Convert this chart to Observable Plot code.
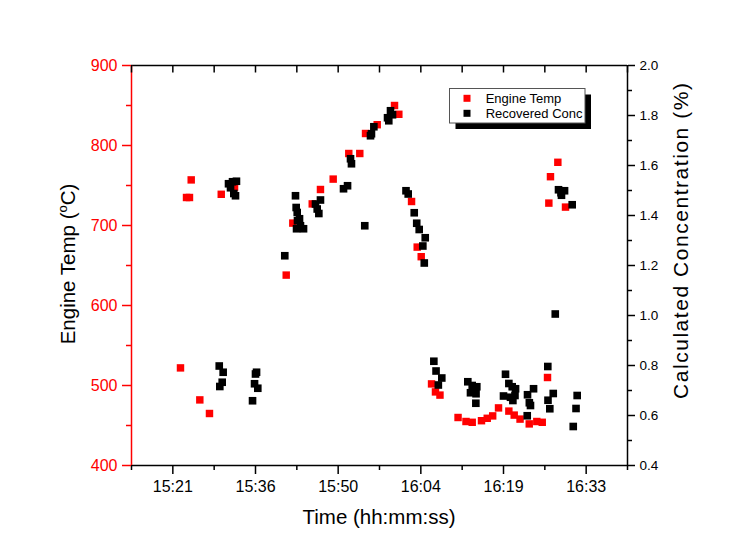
<!DOCTYPE html>
<html><head><meta charset="utf-8">
<script src="https://cdn.jsdelivr.net/npm/d3@7"></script>
<script src="https://cdn.jsdelivr.net/npm/@observablehq/plot@0.6"></script>
<style>body{margin:0;background:#fff;} svg{display:block}</style>
</head><body><div id="chart"></div>
<script>
// ---- data ----
const seriesNames = ["Engine Temp", "Recovered Conc"];
const tempTimes = ["15:22:56","15:23:59","15:24:30","15:24:48","15:26:18","15:27:59","15:30:02","15:32:21","15:41:21","15:42:30","15:45:53","15:47:19","15:49:32","15:52:15","15:54:10","15:55:10","15:57:12","16:00:13","16:00:58","16:03:11","16:04:10","16:04:52","16:06:40","16:07:21","16:08:08","16:11:17","16:12:40","16:13:45","16:15:22","16:16:22","16:17:19","16:18:20","16:20:08","16:21:04","16:22:05","16:23:41","16:25:00","16:25:57","16:26:52","16:27:06","16:27:23","16:28:40","16:30:00"];
const tempValues = [522,735,735,757,482,465,739,748,638,703,727,745,758,790,790,815,826,850,839,730,673,661,502,492,488,460,455,454,456,459,462,472,468,463,458,452,455,454,510,728,761,779,723];
const concTimes = ["15:29:41","15:29:47","15:30:12","15:30:22","15:31:18","15:31:39","15:32:00","15:32:13","15:32:31","15:32:41","15:35:29","15:35:50","15:36:00","15:36:11","15:36:24","15:41:06","15:42:58","15:43:05","15:43:09","15:43:16","15:43:19","15:43:40","15:43:50","15:44:22","15:46:27","15:46:45","15:47:02","15:47:19","15:51:20","15:52:02","15:52:33","15:52:43","15:55:02","15:56:02","15:56:12","15:56:37","15:59:00","15:59:13","15:59:31","15:59:52","16:02:13","16:02:36","16:03:39","16:04:05","16:04:31","16:05:09","16:05:24","16:05:34","16:07:04","16:07:27","16:07:51","16:08:27","16:12:59","16:13:27","16:13:45","16:14:23","16:14:25","16:14:33","16:19:12","16:19:33","16:20:08","16:20:25","16:20:43","16:20:50","16:21:12","16:21:18","16:23:20","16:23:23","16:23:42","16:23:54","16:24:26","16:26:55","16:26:57","16:27:16","16:27:52","16:28:13","16:28:47","16:29:13","16:29:18","16:29:50","16:31:10","16:31:21","16:31:50","16:32:02"];
const concValues = [0.798,0.716,0.733,0.773,1.527,1.511,1.535,1.488,1.479,1.537,0.659,0.727,0.766,0.773,0.709,1.239,1.479,1.432,1.347,1.412,1.379,1.387,1.359,1.347,1.446,1.426,1.408,1.462,1.507,1.519,1.627,1.607,1.359,1.719,1.727,1.755,1.791,1.779,1.819,1.803,1.499,1.486,1.411,1.369,1.344,1.278,1.210,1.311,0.817,0.778,0.722,0.750,0.735,0.691,0.720,0.649,0.687,0.715,0.678,0.765,0.728,0.673,0.715,0.660,0.680,0.707,0.599,0.683,0.651,0.640,0.707,0.796,0.661,0.627,0.688,1.006,1.503,1.491,1.481,1.499,1.443,0.556,0.628,0.680];
// x ticks in fraction of a day, with their labels
const xTickValues = [0.64, 0.65, 0.66, 0.67, 0.68, 0.69];
const xTickLabels = ["15:21", "15:36", "15:50", "16:04", "16:19", "16:33"];
const xMinorTicks = [0.635, 0.645, 0.655, 0.665, 0.675, 0.685, 0.695];
const tempTicks = [400, 500, 600, 700, 800, 900];
const tempMinorTicks = [450, 550, 650, 750, 850];
const concTicks = [0.4, 0.6, 0.8, 1.0, 1.2, 1.4, 1.6, 1.8, 2.0];
const concMinorTicks = [0.5, 0.7, 0.9, 1.1, 1.3, 1.5, 1.7, 1.9];

// ---- helpers ----
const dayFrac = s => { const [h, m, sec] = s.split(":").map(Number); return (h * 3600 + m * 60 + sec) / 86400; };
const T0 = 400, T1 = 900, C0 = 0.4, C1 = 2.0, X0 = 0.635, X1 = 0.695;
const concToTemp = c => T0 + (c - C0) / (C1 - C0) * (T1 - T0);
const tempToConc = t => C0 + (t - T0) / (T1 - T0) * (C1 - C0);
const xLabelMap = new Map(xTickValues.map((v, i) => [v, xTickLabels[i]]));

const tempData = tempTimes.map((t, i) => ({x: dayFrac(t), y: tempValues[i]}));
const concData = concTimes.map((t, i) => ({x: dayFrac(t), y: concToTemp(concValues[i])}));

const W = 729, H = 558, ML = 131, MR = 102, MT = 65, MB = 93;
const pxPerT = (H - MT - MB) / (T1 - T0);
const RED = "#ff0000";
const FONT = "'Liberation Sans', Arial, Helvetica, sans-serif";

const plot = Plot.plot({
  width: W, height: H,
  marginLeft: ML, marginRight: MR, marginTop: MT, marginBottom: MB,
  style: {fontFamily: FONT, background: "#fff", overflow: "visible"},
  x: {domain: [X0, X1]},
  y: {domain: [T0, T1]},
  marks: [
    Plot.dot(tempData, {x: "x", y: "y", symbol: "square", r: 4.2, fill: RED}),
    Plot.dot(concData, {x: "x", y: "y", symbol: "square", r: 4.3, fill: "#000"}),
    // frame lines
    Plot.ruleY([T0, T1], {stroke: "#000", strokeWidth: 1.5}),
    Plot.ruleX([X1], {stroke: "#000", strokeWidth: 1.5}),
    Plot.ruleX([X0], {stroke: RED, strokeWidth: 1.5}),
    // top inward ticks
    Plot.ruleX([...xTickValues, ...xMinorTicks], {y1: T1, y2: T1 - 7.5 / pxPerT, stroke: "#000", strokeWidth: 1.5}),
    // bottom axis
    Plot.axisX(xTickValues, {anchor: "bottom", tickSize: 9, tickPadding: 6.5, strokeWidth: 1.5, fontSize: 16, fill: "#000",
      tickFormat: d => xLabelMap.get(d), label: null}),
    Plot.axisX(xMinorTicks, {anchor: "bottom", tickSize: 5, strokeWidth: 1.5, tickFormat: () => "", label: null}),
    // left axis (temperature)
    Plot.axisY(tempTicks, {anchor: "left", tickSize: 9, tickPadding: 5, strokeWidth: 1.5, fontSize: 16, color: RED,
      tickFormat: d => String(d), label: null}),
    Plot.axisY(tempMinorTicks, {anchor: "left", tickSize: 5, strokeWidth: 1.5, color: RED, tickFormat: () => "", label: null}),
    // right axis (concentration)
    Plot.axisY(concTicks.map(concToTemp), {anchor: "right", tickSize: 7, tickPadding: 5, strokeWidth: 1.5, fontSize: 13.5, fill: "#000",
      tickFormat: t => tempToConc(t).toFixed(1), label: null}),
    Plot.axisY(concMinorTicks.map(concToTemp), {anchor: "right", tickSize: 4, strokeWidth: 1.5, tickFormat: () => "", label: null})
  ]
});

const svg = d3.select(plot);
// axis titles
svg.append("text").attr("x", 379).attr("y", 523.5).attr("text-anchor", "middle")
  .attr("font-family", FONT).attr("font-size", 20.5).attr("fill", "#000").text("Time (hh:mm:ss)");
const lt = svg.append("text").attr("transform", "translate(75,264) rotate(-90)").attr("text-anchor", "middle")
  .attr("font-family", FONT).attr("font-size", 20.5).attr("fill", "#000");
lt.append("tspan").text("Engine Temp (");
lt.append("tspan").attr("font-size", 13).attr("dy", -8).text("o");
lt.append("tspan").attr("dy", 8).text("C)");
svg.append("text").attr("transform", "translate(688,241) rotate(-90)").attr("text-anchor", "middle")
  .attr("font-family", FONT).attr("font-size", 21).attr("fill", "#000")
  .attr("textLength", 316).attr("lengthAdjust", "spacing").text("Calculated Concentration (%)");

// legend
const lg = svg.append("g");
lg.append("rect").attr("x", 455.5).attr("y", 94.5).attr("width", 135.5).attr("height", 34.5).attr("fill", "#000");
lg.append("rect").attr("x", 449.5).attr("y", 88.5).attr("width", 135.5).attr("height", 34.5).attr("fill", "#fff")
  .attr("stroke", "#555").attr("stroke-width", 1);
const legendColors = [RED, "#000"];
seriesNames.forEach((name, i) => {
  const cy = 98.3 + i * 15;
  lg.append("rect").attr("x", 463.5).attr("y", cy - 3.5).attr("width", 7).attr("height", 7).attr("fill", legendColors[i]);
  lg.append("text").attr("x", 485.7).attr("y", cy + 4.3).attr("text-anchor", "start").attr("font-family", FONT).attr("font-size", 13)
    .attr("fill", "#000").text(name);
});

document.getElementById("chart").appendChild(plot);
</script>
</body></html>
